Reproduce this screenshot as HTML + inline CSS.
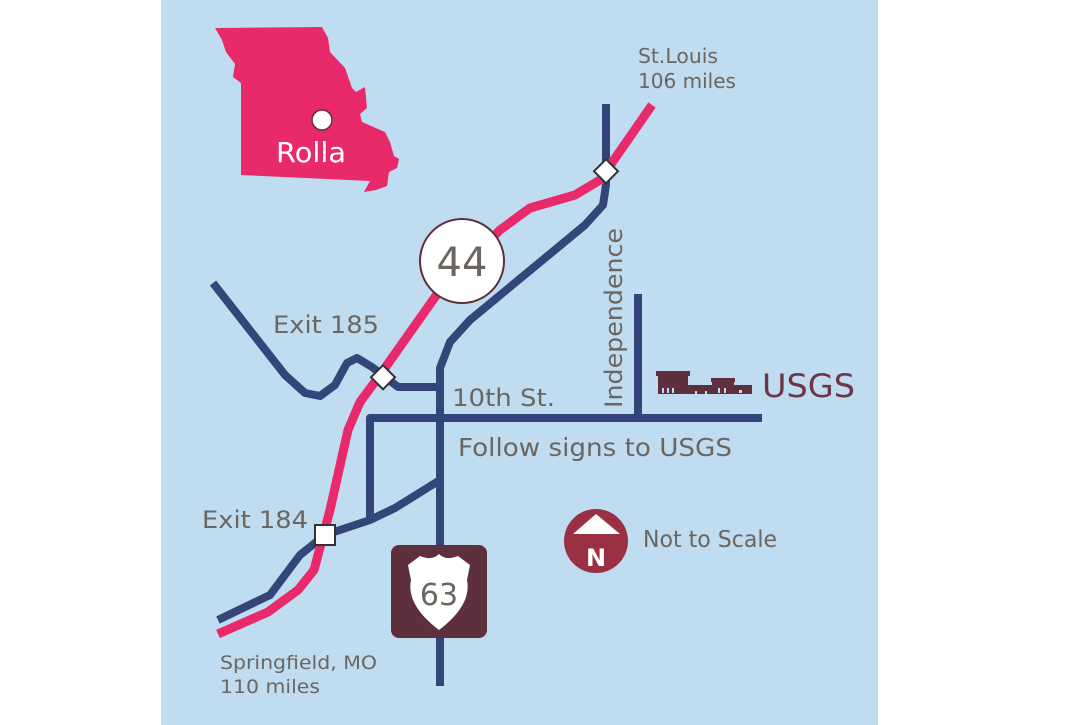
<!DOCTYPE html>
<html><head><meta charset="utf-8"><style>
html,body{margin:0;padding:0;background:#fff;}
svg{display:block;}
text{font-family:"DejaVu Sans","Liberation Sans",sans-serif;}
</style></head><body>
<svg width="1090" height="725" viewBox="0 0 1090 725" xmlns="http://www.w3.org/2000/svg">
<rect x="161" y="0" width="717" height="725" fill="#c0dcf1"/>
<!-- Missouri -->
<polygon fill="#e8296a" points="215,28 322,27 328,38 330,52 345,68 352,88 356,92 365,87 367,108 360,114 362,122 385,132 390,142 394,156 399,159 397,168 389,172 387,186 376,190 364,192 370,181 241,175 241,83 233,77 235,64 226,52 222,40"/>
<circle cx="322" cy="120" r="10" fill="#fff" stroke="#6a2a3a" stroke-width="1.5"/>
<text x="276" y="162" font-size="28" fill="#fff" textLength="70" lengthAdjust="spacingAndGlyphs">Rolla</text>
<!-- navy roads -->
<g fill="none" stroke="#34457a" stroke-width="8" stroke-linejoin="round" stroke-linecap="butt">
<path d="M606,104 L606,185 L603,205 L585,225 L470,320 L450,342 L440,368 L440,686"/>
<path d="M213,283 L285,375 L305,393 L320,396 L335,385 L347,363 L357,358 L372,367 L398,387 L440,387"/>
<path d="M370,520 L370,418 L762,418"/>
<path d="M638,294 L638,418"/>
<path d="M218,620 L270,595 L300,555 L325,535 L370,520 L395,508 L440,480"/>
</g>
<!-- pink I-44 -->
<path d="M218,634 L268,612 L298,590 L314,570 L330,510 L348,430 L360,402 L380,375 L440,290 L500,230 L530,208 L575,195 L600,180 L652,105" fill="none" stroke="#e8296a" stroke-width="9" stroke-linejoin="round"/>
<!-- interchanges -->
<rect x="597" y="163" width="17" height="17" fill="#fff" stroke="#333" stroke-width="2" transform="rotate(45 606 172)"/>
<rect x="374" y="369" width="17" height="17" fill="#fff" stroke="#333" stroke-width="2" transform="rotate(45 383 378)"/>
<rect x="315" y="525" width="20" height="20" fill="#fff" stroke="#333" stroke-width="2"/>
<!-- 44 -->
<circle cx="462" cy="261" r="42" fill="#fff" stroke="#5e2f3c" stroke-width="2"/>
<text x="462" y="276" font-size="40" fill="#6b6660" text-anchor="middle">44</text>
<!-- 63 -->
<rect x="391" y="545" width="96" height="93" rx="8" fill="#5e2f3c"/>
<path d="M420,556 Q432,561 439,554 Q446,561 458,556 L470,565 L467,580 Q472,605 439,630 Q406,605 411,580 L408,565 Z" fill="#fff"/>
<text x="439" y="605" font-size="30" fill="#6b6660" text-anchor="middle">63</text>
<!-- compass -->
<circle cx="596" cy="541" r="32" fill="#9a3043"/>
<polygon points="596,514 620,534 573,534" fill="#fff"/>
<text x="596" y="566" font-size="24" font-weight="bold" fill="#fff" text-anchor="middle">N</text>
<text x="643" y="547" font-size="23" fill="#6b6660" textLength="134" lengthAdjust="spacingAndGlyphs">Not to Scale</text>
<!-- USGS building -->
<g fill="#5e2f3c">
<rect x="656" y="371" width="34" height="5"/>
<rect x="658" y="376" width="30" height="18"/>
<rect x="688" y="385" width="25" height="9"/>
<rect x="711" y="378" width="24" height="4"/>
<rect x="712" y="382" width="22" height="12"/>
<rect x="733" y="385" width="19" height="9"/>
</g>
<g fill="#c0dcf1">
<rect x="662" y="388" width="2" height="5"/><rect x="667" y="388" width="2" height="5"/><rect x="672" y="388" width="2" height="5"/>
<rect x="695" y="391" width="2" height="3"/><rect x="705" y="391" width="2" height="3"/>
<rect x="718" y="388" width="2" height="5"/><rect x="724" y="388" width="2" height="5"/>
<rect x="739" y="390" width="3" height="3"/>
</g>
<text x="762" y="397" font-size="32" fill="#6e3448" textLength="93" lengthAdjust="spacingAndGlyphs">USGS</text>
<!-- labels -->
<g fill="#6b6660">
<text x="638" y="63" font-size="20" textLength="80" lengthAdjust="spacingAndGlyphs">St.Louis</text>
<text x="638" y="88" font-size="20" textLength="98" lengthAdjust="spacingAndGlyphs">106 miles</text>
<text x="273" y="333" font-size="24" textLength="106" lengthAdjust="spacingAndGlyphs">Exit 185</text>
<text x="452" y="406" font-size="24" textLength="103" lengthAdjust="spacingAndGlyphs">10th St.</text>
<text x="458" y="456" font-size="25" textLength="274" lengthAdjust="spacingAndGlyphs">Follow signs to USGS</text>
<text x="202" y="528" font-size="24" textLength="106" lengthAdjust="spacingAndGlyphs">Exit 184</text>
<text x="220" y="669" font-size="19" textLength="157" lengthAdjust="spacingAndGlyphs">Springfield, MO</text>
<text x="220" y="693" font-size="19" textLength="100" lengthAdjust="spacingAndGlyphs">110 miles</text>
<text x="0" y="0" font-size="24" transform="translate(622,408) rotate(-90)" textLength="180" lengthAdjust="spacingAndGlyphs">Independence</text>
</g>
</svg>
</body></html>
